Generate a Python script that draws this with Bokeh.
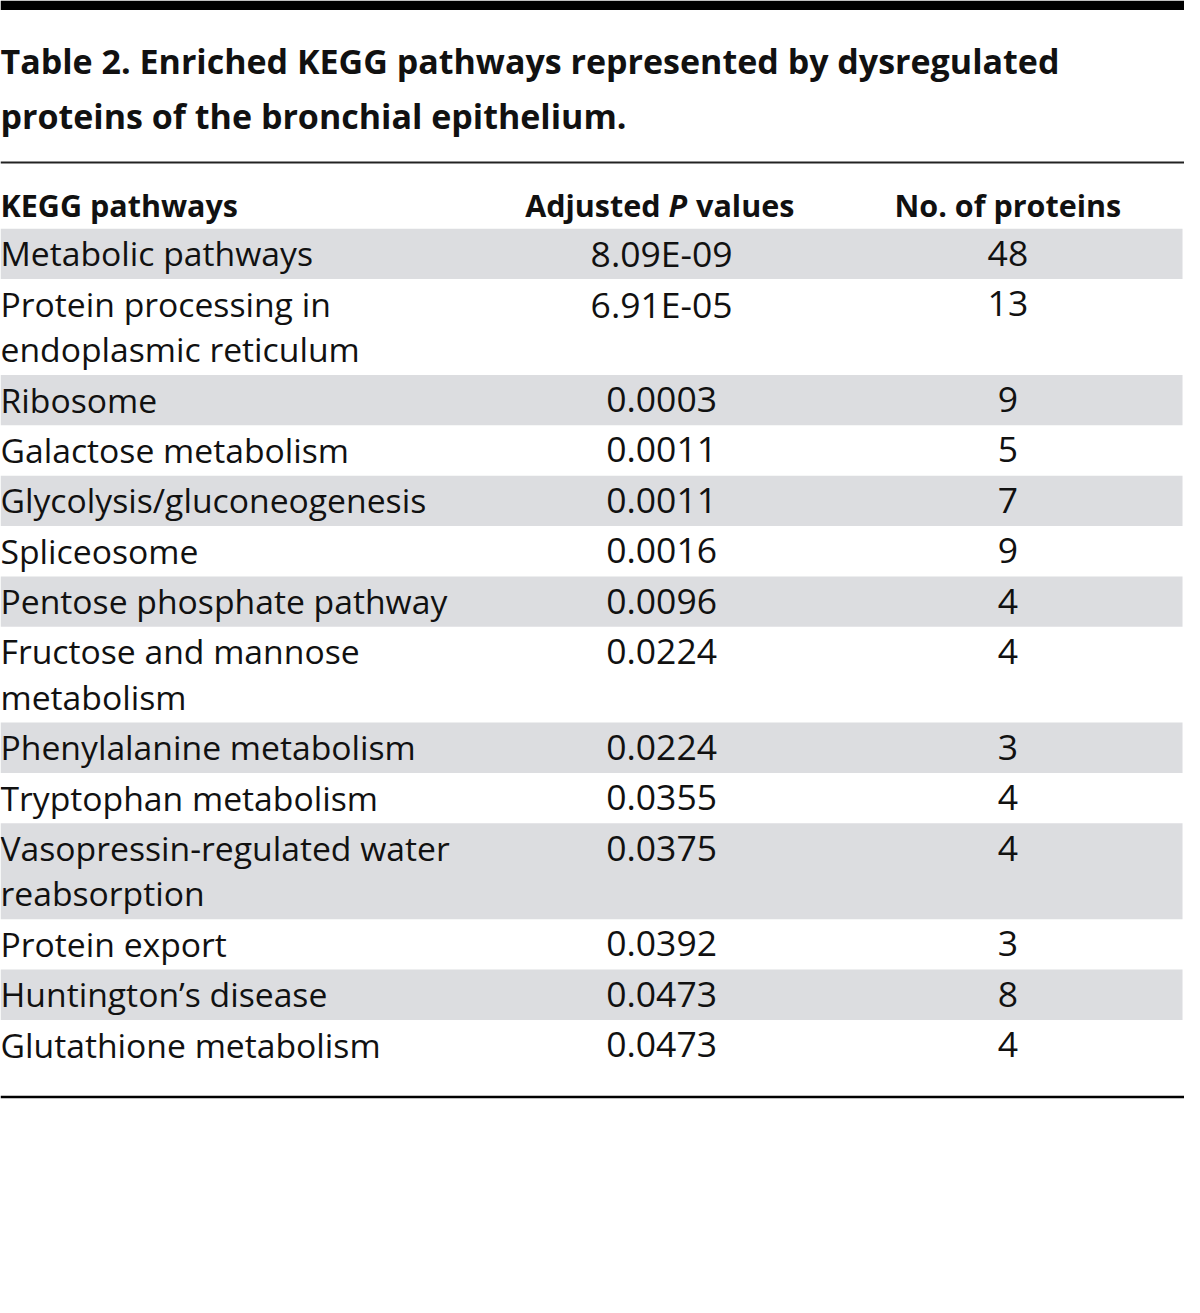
from bokeh.plotting import figure
from bokeh.models import Range1d
from bokeh.core.properties import value
from bokeh.embed import file_html
from bokeh.resources import INLINE

# ---- data ----
title_lines = ["Table 2. Enriched KEGG pathways represented by dysregulated",
               "proteins of the bronchial epithelium."]
col_headers = ["KEGG pathways", "Adjusted P values", "No. of proteins"]
pathways = [
    "Metabolic pathways",
    "Protein processing in\nendoplasmic reticulum",
    "Ribosome",
    "Galactose metabolism",
    "Glycolysis/gluconeogenesis",
    "Spliceosome",
    "Pentose phosphate pathway",
    "Fructose and mannose\nmetabolism",
    "Phenylalanine metabolism",
    "Tryptophan metabolism",
    "Vasopressin-regulated water\nreabsorption",
    "Protein export",
    "Huntington\u2019s disease",
    "Glutathione metabolism",
]
p_values = ["8.09E-09", "6.91E-05", "0.0003", "0.0011", "0.0011", "0.0016", "0.0096",
            "0.0224", "0.0224", "0.0355", "0.0375", "0.0392", "0.0473", "0.0473"]
n_proteins = [48, 13, 9, 5, 7, 9, 4, 4, 3, 4, 4, 3, 8, 4]

# ---- layout (reference pixel coordinates) ----
W, H = 1200, 1313
FONT = value("Open Sans")
TXT = "#111111"
SHADE = "#dcdde0"
body_top = 231
line_h = 46
single_h = 51
col_p_x = 670
col_n_x = 1021
dy_body = -14   # text baseline corrections
dy_title = -12
dy_head = -10

p = figure(width=1184, height=1297, x_range=Range1d(0, W), y_range=Range1d(H, 0),
           output_backend="svg", toolbar_location=None, min_border=0,
           x_axis_location=None, y_axis_location=None, outline_line_color=None,
           background_fill_color="white", border_fill_color="white")
p.grid.visible = False

# row geometry
tops, bottoms = [], []
name_x, name_y, name_t = [], [], []
row_y = []
y = body_top
for name in pathways:
    lines = name.split("\n")
    h = single_h + line_h * (len(lines) - 1)
    tops.append(y)
    bottoms.append(y + h)
    for k, ln in enumerate(lines):
        name_x.append(0)
        name_y.append(y + 39 + k * line_h + dy_body)
        name_t.append(ln)
    row_y.append(y + 39 + dy_body)
    y += h
table_bottom = y

# shaded bands first
shaded = [i for i in range(len(pathways)) if i % 2 == 0]
p.quad(left=[0] * len(shaded), right=[1198] * len(shaded),
       top=[tops[i] for i in shaded], bottom=[bottoms[i] for i in shaded],
       fill_color=SHADE, line_color=None)

# top black bar
p.quad(left=[0], right=[W], top=[0], bottom=[9.5], fill_color="black", line_color=None)

# title
p.text(x=[0, 0], y=[73 + dy_title, 129 + dy_title], text=title_lines, text_font=FONT,
       text_font_size="34px", text_font_style="bold", text_color=TXT, text_align="left",
       text_baseline="alphabetic")

# rules
p.segment(x0=[0], x1=[W], y0=[164], y1=[164], line_color="#222222", line_width=2)
p.segment(x0=[0], x1=[W], y0=[table_bottom + 27], y1=[table_bottom + 27],
          line_color="black", line_width=2.5)

# headers
hy = 217 + dy_head
p.text(x=[0], y=[hy], text=[col_headers[0]], text_font=FONT, text_font_size="30.5px",
       text_font_style="bold", text_color=TXT, text_align="left", text_baseline="alphabetic")
hdr_words = col_headers[1].split(" ")  # Adjusted / P / values
p.text(x=[col_p_x - 1], y=[hy], text=[hdr_words[0]], text_font=FONT, text_font_size="30.5px",
       text_font_style="bold", text_color=TXT, text_align="right", text_baseline="alphabetic")
p.text(x=[col_p_x + 7], y=[hy], text=[hdr_words[1]], text_font=FONT, text_font_size="30.5px",
       text_font_style="bold italic", text_color=TXT, text_align="left", text_baseline="alphabetic")
p.text(x=[col_p_x + 35], y=[hy], text=[hdr_words[2]], text_font=FONT, text_font_size="30.5px",
       text_font_style="bold", text_color=TXT, text_align="left", text_baseline="alphabetic")
p.text(x=[col_n_x], y=[hy], text=[col_headers[2]], text_font=FONT, text_font_size="30.5px",
       text_font_style="bold", text_color=TXT, text_align="center", text_baseline="alphabetic")

# body text
p.text(x=name_x, y=name_y, text=name_t, text_font=FONT, text_font_size="33.7px",
       text_color=TXT, text_align="left", text_baseline="alphabetic")
p.text(x=[col_p_x] * len(p_values), y=row_y, text=p_values, text_font=FONT,
       text_font_size="35.5px", text_color=TXT, text_align="center", text_baseline="alphabetic")
p.text(x=[col_n_x] * len(n_proteins), y=row_y, text=[str(v) for v in n_proteins],
       text_font=FONT, text_font_size="35.5px", text_color=TXT, text_align="center",
       text_baseline="alphabetic")

open("out.html", "w").write(file_html(p, INLINE))
